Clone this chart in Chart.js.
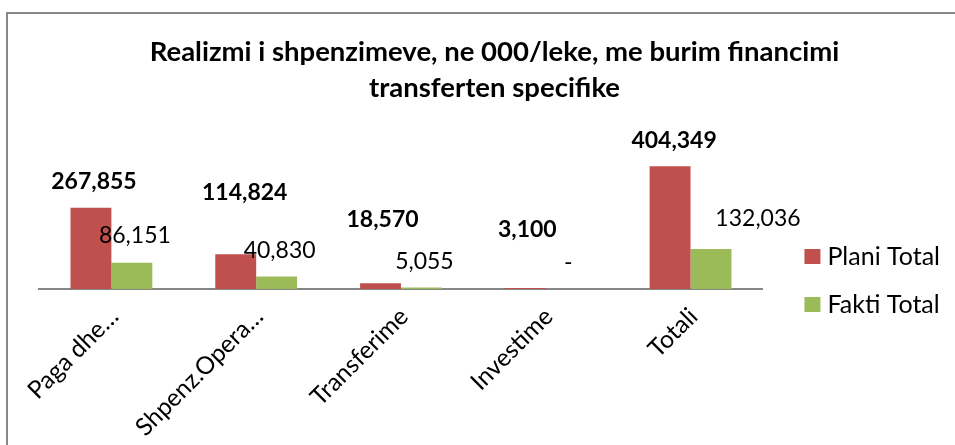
<!DOCTYPE html>
<html>
<head>
<meta charset="utf-8">
<script src="https://cdn.jsdelivr.net/npm/chart.js@4/dist/chart.umd.min.js"></script>
<style>
  html, body { margin: 0; padding: 0; background: #fff; }
  #wrap { position: relative; width: 955px; height: 445px; overflow: hidden; }
  #frame { position: absolute; left: 6px; top: 12px; width: 1000px; height: 1000px; border: 2px solid #878787; }
  #chart { position: absolute; left: 0; top: 0; }
</style>
</head>
<body>
<div id="wrap">
  <div id="frame"></div>
  <canvas id="chart" width="955" height="445"></canvas>
</div>
<script>
// data
const categories = ['Paga dhe…', 'Shpenz.Opera…', 'Transferime', 'Investime', 'Totali'];
const planiTotal = [267855, 114824, 18570, 3100, 404349];
const faktiTotal = [86151, 40830, 5055, 0, 132036];
const titleLines = ['Realizmi i shpenzimeve, ne 000/leke, me burim financimi', 'transferten specifike'];

// where each value label sits relative to the top of its bar (px)
const labelShift = [
  [[3, -26], [9, -62], [2, -64], [2, -58], [4, -26]],
  [[3, -27], [3, -26], [3, -26], [2, -26], [47, -30]]
];

const FONT = 'Lato, "Open Sans", sans-serif';

// legend swatch: square sitting a bit right of where chart.js would put it
const swatch = (color) => {
  const c = document.createElement('canvas');
  c.width = 46;
  c.height = 15;
  const g = c.getContext('2d');
  g.fillStyle = color;
  g.fillRect(27, 0, 16, 15);
  return c;
};

const valueLabels = {
  id: 'valueLabels',
  afterDatasetsDraw(chart) {
    const ctx = chart.ctx;
    ctx.save();
    ctx.textAlign = 'center';
    ctx.textBaseline = 'middle';
    ctx.fillStyle = '#000';
    chart.data.datasets.forEach((ds, i) => {
      const meta = chart.getDatasetMeta(i);
      ctx.font = (i === 0 ? 'bold ' : '') + '23px ' + FONT;
      meta.data.forEach((bar, j) => {
        const v = ds.data[j];
        const txt = v === 0 ? '-' : v.toLocaleString('en-US');
        const s = labelShift[i][j];
        ctx.fillText(txt, bar.x + s[0], bar.y + s[1]);
      });
    });
    ctx.restore();
  }
};

new Chart(document.getElementById('chart'), {
  type: 'bar',
  data: {
    labels: categories,
    datasets: [
      { label: 'Plani Total', data: planiTotal, backgroundColor: '#C0504D' },
      { label: 'Fakti Total', data: faktiTotal, backgroundColor: '#9BBB59' }
    ]
  },
  options: {
    responsive: false,
    animation: false,
    layout: { padding: { left: 39, right: 5, top: 0, bottom: 0 } },
    datasets: { bar: { categoryPercentage: 0.565, barPercentage: 1.0 } },
    scales: {
      x: {
        grid: { display: false, drawTicks: false },
        border: { color: '#868686', width: 2 },
        ticks: { color: '#000', font: { family: FONT, size: 24.5 }, padding: 13, labelOffset: 3, minRotation: 45, maxRotation: 45 },
        afterFit: (scale) => { scale.height = 156; }
      },
      y: { display: false, min: 0, max: 560000 }
    },
    plugins: {
      title: {
        display: true,
        text: titleLines,
        color: '#000',
        font: { family: FONT, size: 27.5, weight: 'bold', lineHeight: 36 / 27.5 },
        padding: { top: 34, bottom: 13 }
      },
      legend: {
        position: 'right',
        // empty title only pushes the items down
        title: { display: true, text: '', padding: { top: 51, bottom: 51 } },
        labels: {
          color: '#000',
          font: { family: FONT, size: 25 },
          usePointStyle: true,
          pointStyleWidth: 29,
          padding: 23,
          generateLabels: (chart) => Chart.defaults.plugins.legend.labels.generateLabels(chart)
            .map(item => ({ ...item, pointStyle: swatch(item.fillStyle) }))
        }
      },
      tooltip: { enabled: false }
    }
  },
  plugins: [valueLabels]
});
</script>
</body>
</html>
